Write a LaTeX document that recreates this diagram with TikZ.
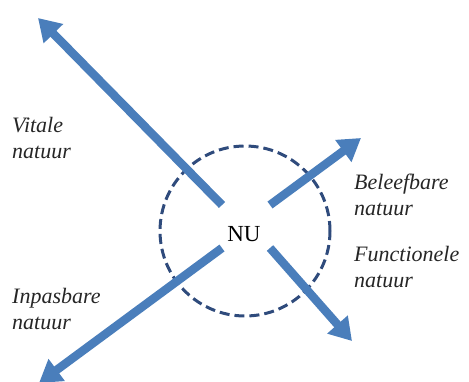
\documentclass[tikz,border=0pt]{standalone}
\usepackage{fontspec}
\setmainfont{Liberation Serif}
\usetikzlibrary{arrows.meta}
\definecolor{arrowblue}{HTML}{4A7EBB}
\definecolor{ringblue}{HTML}{2F4B7C}
\tikzset{
  dirarrow/.style={draw=arrowblue, line width=8.5pt,
    -{Triangle[length=22pt,width=26pt]}},
  lbl/.style={anchor=base west, inner sep=0pt, align=left,
    font=\fontsize{22}{26}\selectfont\itshape, text=black!85},
}
\begin{document}
\begin{tikzpicture}[x=1pt,y=-1pt]
\useasboundingbox (0,0) rectangle (469,381);
\node[circle, draw=ringblue, line width=3pt, dash pattern=on 10pt off 5pt,
      minimum size=170pt, inner sep=0pt] (ring) at (245,231) {};
\node[inner sep=0pt, font=\fontsize{23}{26}\selectfont] (nu) at (244,234) {NU};
\coordinate (s1) at (222,205);
\coordinate (t1) at (38,18);
\coordinate (s2) at (270,205);
\coordinate (t2) at (361,138);
\coordinate (s3) at (270,248);
\coordinate (t3) at (352,341);
\coordinate (s4) at (222,248);
\coordinate (t4) at (39,383);
\draw[dirarrow] (s1) -- (t1);
\draw[dirarrow] (s2) -- (t2);
\draw[dirarrow] (s3) -- (t3);
\draw[dirarrow] (s4) -- (t4);
\node[lbl] (vitale) at (12,158) {Vitale\\natuur};
\node[lbl] (beleef) at (354,215) {Beleefbare\\natuur};
\node[lbl] (funct) at (354,287) {Functionele\\natuur};
\node[lbl] (inpas) at (12,329) {Inpasbare\\natuur};
\end{tikzpicture}
\end{document}
